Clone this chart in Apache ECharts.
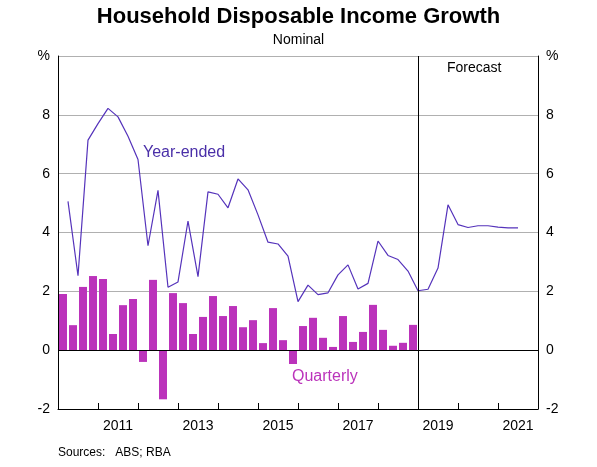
<!DOCTYPE html>
<html lang="en">
<head>
    <meta charset="UTF-8">
    <script src="https://cdn.jsdelivr.net/npm/echarts@6/dist/echarts.min.js"></script>
    <title>Household Disposable Income Growth</title>
    <style>
        body { margin: 0; background: #fff; }
        #main { width: 597px; height: 467px; }
    </style>
</head>
<body>
    <div id="main"></div>
    <script>
        // quarterly growth, Mar 2010 .. Dec 2018
        var quarterly = [1.91, 0.85, 2.15, 2.52, 2.42, 0.55, 1.53, 1.74, -0.40, 2.39, -1.67, 1.94,
            1.60, 0.55, 1.13, 1.84, 1.16, 1.50, 0.78, 1.02, 0.24, 1.43, 0.34, -0.47,
            0.82, 1.10, 0.42, 0.11, 1.16, 0.28, 0.62, 1.54, 0.69, 0.15, 0.25, 0.86];
        // year-ended growth, Mar 2010 .. Jun 2021 (incl. forecast)
        var yearEnded = [5.06, 2.53, 7.14, 7.70, 8.22, 7.93, 7.27, 6.48, 3.55, 5.43, 2.14, 2.32,
            4.39, 2.50, 5.38, 5.30, 4.84, 5.82, 5.45, 4.60, 3.67, 3.61, 3.20, 1.65,
            2.21, 1.89, 1.95, 2.56, 2.90, 2.08, 2.27, 3.71, 3.22, 3.08, 2.69, 2.02,
            2.07, 2.79, 4.94, 4.27, 4.17, 4.23, 4.23, 4.18, 4.16, 4.16];
        var startYear = 2010;

        var barData = quarterly.map(function (v, i) { return [startYear + (i + 0.5) / 4, v]; });
        var lineData = yearEnded.map(function (v, i) { return [startYear + (i + 1) / 4, v]; });

        var chart = echarts.init(document.getElementById('main'));
        var font = 'Arial, "Liberation Sans", sans-serif';
        var yLabel = function (v) { return v === 10 ? '%' : v; };

        var option = {
            animation: false,
            textStyle: { fontFamily: font },
            title: {
                text: 'Household Disposable Income Growth',
                subtext: 'Nominal',
                left: 'center',
                top: 1,
                itemGap: 5,
                textStyle: { fontSize: 22, fontWeight: 'bold', color: '#000', fontFamily: font },
                subtextStyle: { fontSize: 14, color: '#000', fontFamily: font }
            },
            grid: { left: 58, right: 59, top: 56, bottom: 58 },
            xAxis: [{
                type: 'value', min: 2010, max: 2022, interval: 1,
                axisLine: { show: true, onZero: false, lineStyle: { color: '#000' } },
                axisTick: { inside: true, length: 6, lineStyle: { color: '#000' } },
                axisLabel: { show: false },
                splitLine: { show: false }
            }, {
                type: 'value', min: 2010, max: 2022, interval: 0.5, position: 'bottom',
                axisLine: { show: false, onZero: false }, axisTick: { show: false }, splitLine: { show: false },
                axisLabel: {
                    color: '#000', fontSize: 14, margin: 10,
                    formatter: function (v) { return (v % 2 === 1.5) ? String(v - 0.5) : ''; }
                }
            }],
            yAxis: [{
                type: 'value', min: -2, max: 10, interval: 2,
                axisLine: { show: true, lineStyle: { color: '#000' } },
                axisTick: { show: false },
                axisLabel: { color: '#000', fontSize: 14, formatter: yLabel },
                splitLine: { lineStyle: { color: '#b0b0b0' } }
            }, {
                type: 'value', min: -2, max: 10, interval: 2, position: 'right',
                axisLine: { show: true, lineStyle: { color: '#000' } },
                axisTick: { show: false },
                axisLabel: { color: '#000', fontSize: 14, formatter: yLabel },
                splitLine: { show: false }
            }],
            series: [{
                type: 'bar',
                data: barData,
                barWidth: 8,
                itemStyle: { color: '#bb33bb' },
                markLine: {
                    silent: true, symbol: 'none', label: { show: false },
                    lineStyle: { color: '#000', type: 'solid', width: 1 },
                    data: [{ yAxis: 0 }, { xAxis: 2019 }]
                }
            }, {
                type: 'line',
                data: lineData,
                symbol: 'none',
                lineStyle: { color: '#5533bb', width: 1.2 },
                z: 3
            }],
            graphic: [
                { type: 'text', left: 143, top: 145, style: { text: 'Year-ended', fill: '#4a2fa8', font: '16px ' + font } },
                { type: 'text', left: 292, top: 369, style: { text: 'Quarterly', fill: '#bb33bb', font: '16px ' + font } },
                { type: 'text', left: 447, top: 61, style: { text: 'Forecast', fill: '#000', font: '14px ' + font } },
                { type: 'text', left: 58, top: 447, style: { text: 'Sources:   ABS; RBA', fill: '#000', font: '12px ' + font } }
            ]
        };
        chart.setOption(option);
    </script>
</body>
</html>
